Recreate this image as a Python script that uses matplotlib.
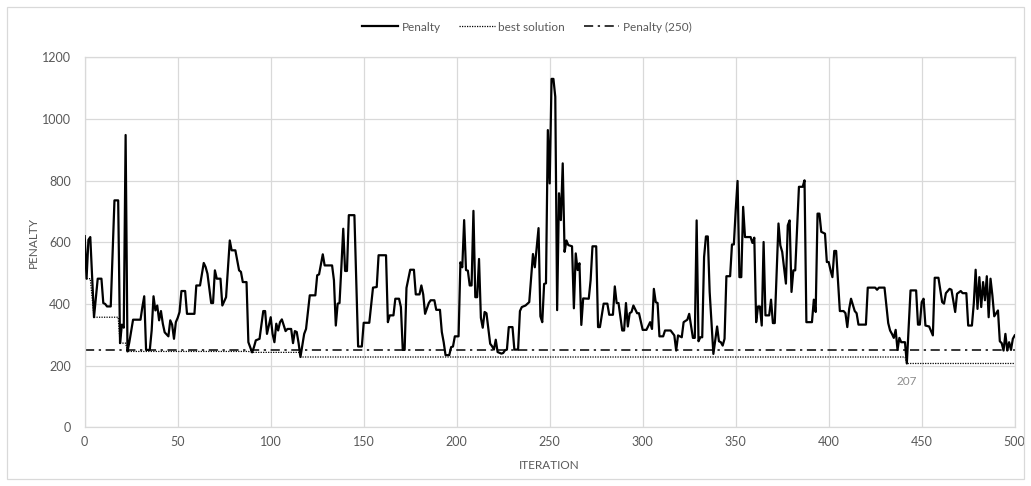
import numpy as np
import matplotlib
matplotlib.use("Agg")
import matplotlib.pyplot as plt
from matplotlib.patches import Rectangle

# --- palette (Excel-like light theme) ---
INK = "#000000"
TEXT = "#595959"
GRID = "#d9d9d9"
LABEL = "#8c8c8c"

# penalty per iteration (breakpoints of the trace)
ITERATION = [
    0, 1, 2, 3, 5, 7, 9, 10, 11, 12, 14, 16, 18, 19, 20, 21, 22, 23, 24, 26,
    30, 31, 32, 33, 35, 36, 37, 38, 39, 40, 41, 42, 43, 45, 46, 47, 48, 49, 50, 51,
    52, 54, 55, 59, 60, 62, 64, 65, 66, 68, 69, 70, 71, 73, 74, 76, 78, 79, 81, 83,
    84, 85, 87, 88, 90, 91, 92, 94, 96, 97, 98, 100, 101, 102, 103, 104, 105, 106, 108, 109,
    111, 112, 113, 114, 115, 116, 118, 119, 121, 124, 125, 126, 128, 129, 133, 134, 135, 136, 137, 138,
    139, 140, 141, 142, 145, 147, 149, 150, 153, 155, 157, 158, 162, 163, 164, 166, 167, 169, 170, 171,
    172, 173, 175, 177, 178, 180, 181, 182, 183, 185, 186, 188, 189, 191, 192, 193, 194, 196, 197, 198,
    199, 201, 202, 203, 204, 205, 206, 207, 208, 209, 210, 211, 212, 213, 214, 215, 216, 218, 219, 220,
    221, 222, 224, 225, 226, 227, 228, 230, 231, 233, 234, 235, 237, 239, 241, 242, 244, 245, 246, 247,
    248, 249, 250, 251, 252, 253, 254, 255, 256, 257, 258, 259, 260, 262, 263, 264, 265, 266, 267, 268,
    271, 272, 273, 275, 276, 277, 279, 281, 282, 284, 285, 286, 287, 289, 290, 291, 292, 293, 294, 295,
    297, 298, 300, 302, 304, 305, 306, 307, 308, 309, 311, 312, 315, 317, 318, 319, 321, 322, 324, 325,
    326, 327, 328, 329, 330, 331, 332, 333, 334, 335, 336, 338, 340, 341, 342, 343, 344, 345, 347, 348,
    349, 350, 351, 352, 353, 354, 355, 358, 359, 360, 361, 362, 363, 364, 365, 366, 368, 369, 370, 371,
    373, 374, 375, 377, 378, 379, 380, 381, 382, 384, 386, 387, 388, 391, 392, 393, 394, 395, 396, 398,
    399, 400, 401, 402, 403, 404, 406, 408, 409, 410, 411, 412, 414, 415, 416, 420, 421, 425, 426, 427,
    430, 432, 433, 434, 435, 436, 437, 438, 439, 441, 442, 444, 447, 448, 449, 450, 451, 452, 454, 456,
    457, 459, 461, 462, 463, 465, 466, 468, 469, 471, 472, 474, 475, 477, 478, 479, 480, 481, 482, 483,
    484, 485, 486, 487, 488, 489, 491, 492, 493, 494, 495, 496, 497, 498, 499, 500,
]
PENALTY = [
    620, 482, 608, 617, 357, 482, 482, 403, 400, 392, 392, 736, 736, 273, 333, 323, 948, 246, 276, 349,
    349, 390, 425, 251, 251, 314, 425, 379, 395, 347, 377, 336, 308, 295, 347, 333, 287, 341, 355, 374,
    442, 442, 368, 368, 460, 460, 533, 520, 498, 403, 403, 509, 482, 482, 395, 422, 606, 574, 574, 509,
    504, 471, 471, 276, 243, 260, 282, 287, 377, 377, 303, 357, 303, 276, 336, 314, 341, 350, 312, 319,
    319, 273, 312, 309, 273, 228, 303, 319, 428, 428, 493, 496, 561, 525, 525, 477, 330, 401, 403, 520,
    644, 507, 507, 688, 688, 262, 262, 339, 339, 453, 455, 558, 558, 341, 363, 363, 417, 417, 390, 251,
    251, 452, 511, 511, 431, 431, 460, 431, 368, 403, 412, 412, 381, 381, 309, 276, 234, 234, 260, 262,
    295, 295, 535, 519, 672, 510, 508, 460, 460, 702, 422, 422, 546, 355, 323, 374, 370, 271, 263, 252,
    284, 244, 239, 241, 250, 252, 325, 325, 252, 252, 377, 390, 395, 406, 562, 519, 646, 360, 341, 465,
    467, 964, 791, 1130, 1130, 1072, 380, 759, 672, 856, 569, 606, 591, 587, 386, 564, 510, 532, 332, 418,
    417, 477, 587, 587, 325, 325, 401, 401, 365, 365, 457, 403, 403, 314, 314, 403, 327, 370, 374, 395,
    370, 370, 316, 316, 341, 319, 449, 406, 403, 295, 295, 314, 314, 298, 249, 298, 292, 341, 349, 368,
    330, 290, 290, 671, 279, 292, 292, 552, 619, 619, 439, 238, 327, 279, 276, 265, 287, 490, 490, 593,
    593, 704, 799, 487, 487, 715, 617, 617, 598, 615, 341, 392, 392, 330, 601, 363, 363, 414, 338, 338,
    661, 590, 569, 466, 655, 671, 439, 509, 509, 780, 780, 801, 341, 341, 414, 374, 693, 693, 634, 628,
    536, 536, 509, 487, 572, 572, 377, 377, 370, 325, 384, 417, 377, 370, 333, 333, 453, 453, 446, 453,
    453, 338, 314, 303, 290, 316, 251, 290, 276, 276, 207, 444, 444, 333, 333, 406, 417, 330, 327, 298,
    485, 485, 406, 401, 435, 449, 446, 374, 433, 442, 435, 435, 330, 330, 401, 511, 384, 487, 390, 471,
    412, 490, 357, 482, 428, 360, 379, 279, 273, 249, 303, 249, 276, 251, 287, 298,
]
THRESHOLD = 250

X_TICKS = [0, 50, 100, 150, 200, 250, 300, 350, 400, 450, 500]
Y_TICKS = [0, 200, 400, 600, 800, 1000, 1200]

plt.rcParams["font.family"] = ["Lato", "DejaVu Sans"]

it = np.array(ITERATION)
pen = np.array(PENALTY)
best = np.minimum.accumulate(pen)          # best solution so far

fig = plt.figure(figsize=(10.31, 4.86), dpi=100)
fig.patch.set_facecolor("white")
ax = fig.add_axes([84.7 / 1031, 1 - 427.3 / 486, 930 / 1031, 370 / 486])

ax.plot(it, pen, color=INK, linewidth=1.6, solid_joinstyle="round",
        label="Penalty", zorder=3)
ax.plot(it, best, color=INK, linewidth=0.9, linestyle=(0, (1, 1)),
        label="best solution", zorder=2)
ax.plot([X_TICKS[0], X_TICKS[-1]], [THRESHOLD, THRESHOLD], color=INK,
        linewidth=1.1, linestyle=(0, (6, 3, 1.5, 3)),
        label=f"Penalty ({THRESHOLD})", zorder=2)

i_min = int(np.argmin(pen))
ax.annotate(f"{pen[i_min]}", xy=(it[i_min], pen[i_min]), xytext=(0, -9),
            textcoords="offset points", ha="center", va="top",
            color=LABEL, fontsize=8.5)

ax.set_xlim(X_TICKS[0], X_TICKS[-1])
ax.set_ylim(Y_TICKS[0], Y_TICKS[-1])
ax.set_xticks(X_TICKS)
ax.set_yticks(Y_TICKS)
ax.grid(True, color=GRID, linewidth=0.9)
ax.set_axisbelow(True)
for side in ax.spines:
    ax.spines[side].set_color(GRID)
    ax.spines[side].set_linewidth(0.9)
ax.tick_params(length=0, colors=TEXT, labelsize=9)
ax.tick_params(axis="y", pad=10)
ax.tick_params(axis="x", pad=6)

fig.text(33 / 1031, 1 - 242 / 486, "PENALTY", rotation=90, ha="center",
         va="center", color=TEXT, fontsize=8.5)
fig.text(549.7 / 1031, 1 - 465 / 486, "ITERATION", ha="center",
         va="center", color=TEXT, fontsize=8.5)

ax.legend(loc="center", bbox_to_anchor=(527 / 1031, 1 - 27 / 486),
          bbox_transform=fig.transFigure, ncol=3, frameon=False,
          fontsize=8.5, labelcolor=TEXT, handlelength=3.0,
          handletextpad=0.3, columnspacing=1.6)

# chart-area border
fig.patches.append(Rectangle((7 / 1031, 7 / 486), 1017 / 1031, 472 / 486,
                             transform=fig.transFigure, fill=False,
                             edgecolor=GRID, linewidth=0.9))

fig.savefig("out.png", dpi=100, facecolor="white")
